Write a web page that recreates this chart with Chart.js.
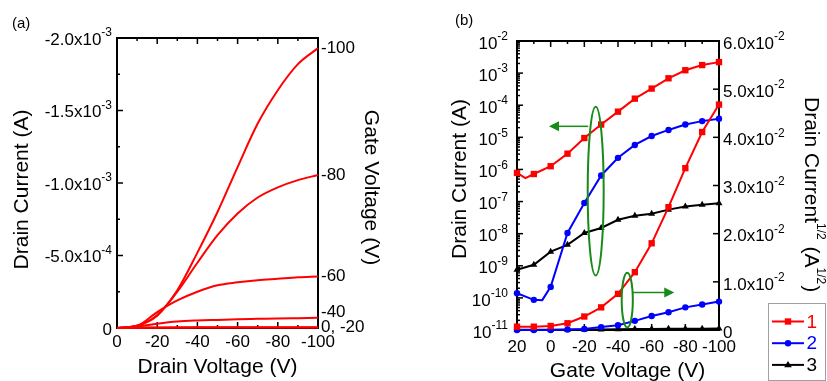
<!DOCTYPE html>
<html>
<head>
<meta charset="utf-8">
<script src="https://cdn.jsdelivr.net/npm/chart.js@4.4.1/dist/chart.umd.min.js"></script>
<style>
  html, body { margin: 0; padding: 0; background: #fff; }
  #wrap { position: relative; width: 827px; height: 381px; overflow: hidden; }
  #chartA { position: absolute; left: 0; top: 0; }
  #chartB { position: absolute; left: 440px; top: 0; }
</style>
</head>
<body>
<div id="wrap">
  <canvas id="chartA" width="440" height="381"></canvas>
  <canvas id="chartB" width="387" height="381"></canvas>
</div>
<script>
// ---- panel (a): output curves, drain current (A) vs drain voltage (V)
const drainV = [0, -10, -20, -30, -40, -50, -60, -70, -80, -90, -100];
const idVg100 = [0, -1.5e-5, -9.0e-5, -2.6e-4, -5.2e-4, -8.0e-4, -1.11e-3, -1.41e-3, -1.64e-3, -1.82e-3, -1.93e-3];
const idVg80 = [0, -1.5e-5, -8.5e-5, -2.5e-4, -4.5e-4, -6.4e-4, -7.9e-4, -9.0e-4, -9.7e-4, -1.02e-3, -1.055e-3];
const idVg60 = [0, -1.5e-5, -1.1e-4, -1.9e-4, -2.5e-4, -2.95e-4, -3.15e-4, -3.3e-4, -3.4e-4, -3.5e-4, -3.56e-4];
const idVg40 = [0, -1.0e-5, -3.0e-5, -4.5e-5, -5.2e-5, -5.6e-5, -6.0e-5, -6.3e-5, -6.6e-5, -6.8e-5, -7.0e-5];
const idVg20 = [0, -2e-6, -4e-6, -5e-6, -5e-6, -6e-6, -6e-6, -6e-6, -6e-6, -6e-6, -6e-6];
const idVg0 = [0, -1e-6, -2e-6, -2e-6, -3e-6, -3e-6, -3e-6, -3e-6, -3e-6, -3e-6, -3e-6];
const gateTags = ["-100", "-80", "-60", "-40", "0, -20", ""];
const xTicksA = [0, -20, -40, -60, -80, -100];
const yTicksA = [0, -5e-4, -1.0e-3, -1.5e-3, -2.0e-3];

// ---- panel (b): transfer curves, gate voltage (V)
const gateV = [20, 10, 0, -10, -20, -30, -40, -50, -60, -70, -80, -90, -100];
const idLog1 = [7.8e-7, 7.2e-7, 1.26e-6, 3.1e-6, 9.5e-6, 2.5e-5, 6.3e-5, 1.6e-4, 3.3e-4, 6.9e-4, 1.23e-3, 1.78e-3, 2.2e-3];
const idLog2 = [1.4e-10, 8.7e-11, 2.2e-10, 1.05e-8, 9.0e-8, 6.5e-7, 2.3e-6, 5.8e-6, 1.1e-5, 1.7e-5, 2.5e-5, 3.2e-5, 3.8e-5];
const idLog3 = [7.5e-10, 1.07e-9, 2.75e-9, 4.5e-9, 1.05e-8, 1.5e-8, 2.7e-8, 3.6e-8, 4.2e-8, 5.6e-8, 7.0e-8, 7.9e-8, 8.9e-8];
const idSqrt1 = [6.9e-4, 6.9e-4, 8.3e-4, 1.4e-3, 2.8e-3, 4.7e-3, 7.5e-3, 1.2e-2, 1.8e-2, 2.55e-2, 3.36e-2, 4.11e-2, 4.68e-2];
const idSqrt2 = [0, 0, 0, 1e-4, 2e-4, 6e-4, 1.0e-3, 1.9e-3, 2.9e-3, 3.7e-3, 4.7e-3, 5.3e-3, 5.9e-3];
const idSqrt3 = [3e-5, 3e-5, 5e-5, 7e-5, 1e-4, 1.2e-4, 1.6e-4, 1.9e-4, 2e-4, 2.4e-4, 2.6e-4, 2.8e-4, 3e-4];
// unmarked readings between markers
const extraLog1 = [[15, 5.4e-7]];
const extraLog2 = [[5, 8.5e-11]];
const seriesNames = ["1", "2", "3"];
const seriesColors = ["#ff0000", "#0000ff", "#000000"];
const xTicksB = [20, 0, -20, -40, -60, -80, -100];
const yLogTicks = [-11, -10, -9, -8, -7, -6, -5, -4, -3, -2];
const ySqrtTicks = [0, 0.01, 0.02, 0.03, 0.04, 0.05, 0.06];

const FONT = "'Liberation Sans', Arial, sans-serif";

function supText(ctx, base, sup, x, y, align, size) {
  ctx.font = size + "px " + FONT;
  const wb = ctx.measureText(base).width;
  const ss = Math.round(size * 0.7);
  ctx.font = ss + "px " + FONT;
  const ws = sup ? ctx.measureText(sup).width : 0;
  let x0 = x;
  if (align === "right") x0 = x - wb - ws;
  if (align === "center") x0 = x - (wb + ws) / 2;
  ctx.textAlign = "left";
  ctx.textBaseline = "middle";
  ctx.font = size + "px " + FONT;
  ctx.fillText(base, x0, y);
  if (sup) {
    ctx.font = ss + "px " + FONT;
    ctx.fillText(sup, x0 + wb, y - size * 0.42);
  }
}

function sci(v) {
  if (v === 0) return ["0", ""];
  const e = Math.floor(Math.log10(Math.abs(v)) + 1e-9);
  return [(v / Math.pow(10, e)).toFixed(1) + "x10", String(e)];
}

function rotText(ctx, text, x, y, angle, size) {
  ctx.save();
  ctx.translate(x, y);
  ctx.rotate(angle);
  ctx.font = size + "px " + FONT;
  ctx.textAlign = "center";
  ctx.textBaseline = "middle";
  ctx.fillText(text, 0, 0);
  ctx.restore();
}

function tick(ctx, x1, y1, x2, y2) {
  ctx.beginPath();
  ctx.moveTo(x1, y1);
  ctx.lineTo(x2, y2);
  ctx.stroke();
}

// ---------- panel (a)
const panelA = {
  id: "panelA",
  beforeDatasetsDraw(chart) {
    const { ctx, chartArea: a } = chart;
    const xs = chart.scales.x, ys = chart.scales.y;
    ctx.save();
    ctx.strokeStyle = "#000";
    ctx.lineWidth = 1.5;
    for (let v = 0; v >= -100; v -= 10) {
      const px = xs.getPixelForValue(v);
      const len = v % 20 === 0 ? 6 : 3;
      tick(ctx, px, a.bottom, px, a.bottom - len);
      tick(ctx, px, a.top, px, a.top + len);
    }
    for (let v = 0; v >= -2e-3 - 1e-9; v -= 2.5e-4) {
      const py = ys.getPixelForValue(v);
      const len = Math.round(v / 2.5e-4) % 2 === 0 ? 6 : 3;
      tick(ctx, a.left, py, a.left + len, py);
    }
    ctx.lineWidth = 2;
    ctx.strokeRect(a.left, a.top, a.right - a.left, a.bottom - a.top);
    ctx.restore();
  },
  afterDraw(chart) {
    const { ctx, chartArea: a } = chart;
    const xs = chart.scales.x, ys = chart.scales.y;
    ctx.save();
    ctx.fillStyle = "#000";
    xTicksA.forEach(v => {
      supText(ctx, String(v), "", xs.getPixelForValue(v), a.bottom + 14, "center", 17);
    });
    yTicksA.forEach(v => {
      const [b, s] = sci(v);
      supText(ctx, b, s, a.left - 5, ys.getPixelForValue(v) + 2, "right", 17);
    });
    // gate voltage tags at the end of each curve
    chart.data.datasets.forEach((ds, i) => {
      if (!gateTags[i]) return;
      const last = ds.data[ds.data.length - 1];
      const dy = gateTags[i] === "-40" ? -6 : 0;
      supText(ctx, gateTags[i], "", a.right + 3, ys.getPixelForValue(last.y) + dy, "left", 17);
    });
    ctx.font = "15px " + FONT;
    ctx.textAlign = "left";
    ctx.textBaseline = "middle";
    ctx.fillText("(a)", 12, 24);
    rotText(ctx, "Drain Current (A)", 22.5, 189.5, -Math.PI / 2, 21);
    rotText(ctx, "Gate Voltage (V)", 371, 187.5, Math.PI / 2, 21);
    rotText(ctx, "Drain Voltage (V)", 217.5, 367, 0, 21);
    ctx.restore();
  }
};

const curvesA = [idVg100, idVg80, idVg60, idVg40, idVg20, idVg0];
new Chart(document.getElementById("chartA"), {
  type: "line",
  data: {
    datasets: curvesA.map((c, i) => ({
      label: "Vg " + (gateTags[i] || "0"),
      data: drainV.map((v, j) => ({ x: v, y: c[j] })),
      borderColor: "#ff0000",
      borderWidth: 2,
      pointRadius: 0,
      cubicInterpolationMode: "monotone",
      fill: false,
      clip: false
    }))
  },
  options: {
    responsive: false,
    animation: false,
    layout: { padding: { left: 117, right: 122, top: 38, bottom: 53 } },
    plugins: { legend: { display: false }, tooltip: { enabled: false } },
    scales: {
      x: { type: "linear", min: -100, max: 0, reverse: true, display: false },
      y: { type: "linear", min: -2e-3, max: 0, reverse: true, display: false }
    }
  },
  plugins: [panelA]
});

// ---------- panel (b)
function drawMarker(ctx, style, x, y, r) {
  ctx.beginPath();
  if (style === "rect") {
    const s = r * Math.SQRT1_2;
    ctx.rect(x - s, y - s, 2 * s, 2 * s);
  } else if (style === "circle") {
    ctx.arc(x, y, r, 0, Math.PI * 2);
  } else {
    ctx.moveTo(x, y - r);
    ctx.lineTo(x + r * 0.95, y + r * 0.6);
    ctx.lineTo(x - r * 0.95, y + r * 0.6);
    ctx.closePath();
  }
  ctx.fill();
}

const markerStyles = ["rect", "circle", "triangle"];
const markerSizes = [4.5, 3.2, 4];

const panelB = {
  id: "panelB",
  beforeDatasetsDraw(chart) {
    const { ctx, chartArea: a } = chart;
    const xs = chart.scales.x, yl = chart.scales.yLog, yr = chart.scales.ySqrt;
    ctx.save();
    ctx.strokeStyle = "#000";
    ctx.lineWidth = 1.5;
    for (let v = 20; v >= -100; v -= 10) {
      const px = xs.getPixelForValue(v);
      const len = v % 20 === 0 ? 6 : 3;
      tick(ctx, px, a.bottom, px, a.bottom - len);
      tick(ctx, px, a.top, px, a.top + len);
    }
    yLogTicks.forEach(d => {
      const py = yl.getPixelForValue(Math.pow(10, d));
      tick(ctx, a.left, py, a.left + 6, py);
      if (d < -2) {
        for (let k = 2; k <= 9; k++) {
          const pm = yl.getPixelForValue(k * Math.pow(10, d));
          tick(ctx, a.left, pm, a.left + 3, pm);
        }
      }
    });
    ySqrtTicks.forEach(v => {
      const py = yr.getPixelForValue(v);
      tick(ctx, a.right, py, a.right - 6, py);
    });
    ctx.lineWidth = 2;
    ctx.strokeRect(a.left, a.top, a.right - a.left, a.bottom - a.top);
    ctx.restore();
  },
  afterDraw(chart) {
    const { ctx, chartArea: a } = chart;
    const xs = chart.scales.x, yl = chart.scales.yLog, yr = chart.scales.ySqrt;
    ctx.save();
    ctx.fillStyle = "#000";
    xTicksB.forEach(v => {
      supText(ctx, String(v), "", xs.getPixelForValue(v), a.bottom + 17, "center", 17);
    });
    yLogTicks.forEach(d => {
      supText(ctx, "10", String(d), a.left - 9, yl.getPixelForValue(Math.pow(10, d)) + 3, "right", 17);
    });
    ySqrtTicks.forEach(v => {
      const [b, s] = sci(v);
      supText(ctx, b, s, a.right + 4, yr.getPixelForValue(v) + 3, "left", 17);
    });
    ctx.font = "15px " + FONT;
    ctx.textAlign = "left";
    ctx.textBaseline = "middle";
    ctx.fillText("(b)", 15, 21);
    rotText(ctx, "Drain Current (A)", 20, 179, -Math.PI / 2, 21);
    rotText(ctx, "Gate Voltage (V)", 187.5, 371.5, 0, 21);

    // right title with superscripts, reading downward
    ctx.save();
    ctx.translate(371, 97);
    ctx.rotate(Math.PI / 2);
    ctx.textAlign = "left";
    ctx.textBaseline = "middle";
    let cx = 0;
    const parts = [["Drain Current", 21, 0], ["1/2", 12, -9], [" (A", 21, 0], ["1/2", 12, -9], [")", 21, 0]];
    parts.forEach(([t, sz, dy]) => {
      ctx.font = sz + "px " + FONT;
      ctx.fillText(t, cx, dy);
      cx += ctx.measureText(t).width + (sz < 20 ? 1 : 0);
    });
    ctx.restore();

    // green guides: ovals and arrows pointing to the axis used
    ctx.strokeStyle = "#178a17";
    ctx.fillStyle = "#178a17";
    ctx.lineWidth = 2;
    const oval = (x1, x2, p1, p2) => {
      const cxp = (xs.getPixelForValue(x1) + xs.getPixelForValue(x2)) / 2;
      const rx = Math.abs(xs.getPixelForValue(x1) - xs.getPixelForValue(x2)) / 2;
      ctx.beginPath();
      ctx.ellipse(cxp, (p1 + p2) / 2, rx, Math.abs(p2 - p1) / 2, 0, 0, Math.PI * 2);
      ctx.stroke();
    };
    const arrow = (xa, xb, py) => {
      const pa = xs.getPixelForValue(xa), pb = xs.getPixelForValue(xb);
      const dir = pb > pa ? 1 : -1;
      ctx.lineWidth = 1.5;
      tick(ctx, pa, py, pb - dir * 9, py);
      ctx.beginPath();
      ctx.moveTo(pb, py);
      ctx.lineTo(pb - dir * 10, py - 5);
      ctx.lineTo(pb - dir * 10, py + 5);
      ctx.closePath();
      ctx.fill();
      ctx.lineWidth = 2;
    };
    oval(-22, -31.5, yl.getPixelForValue(9e-5), yl.getPixelForValue(5e-10));
    arrow(-22.3, 1, yl.getPixelForValue(2.2e-5));
    oval(-42.2, -48.8, yr.getPixelForValue(0.0119), yr.getPixelForValue(0.0005));
    arrow(-48.9, -73.4, yr.getPixelForValue(0.0078));

    // legend box
    ctx.strokeStyle = "#a0a0a0";
    ctx.lineWidth = 1;
    ctx.strokeRect(328.5, 303.5, 57, 77);
    seriesNames.forEach((n, i) => {
      const y = 321.5 + i * 21.7;
      ctx.strokeStyle = seriesColors[i];
      ctx.fillStyle = seriesColors[i];
      ctx.lineWidth = 2;
      tick(ctx, 332, y, 364, y);
      drawMarker(ctx, markerStyles[i], 348, y, markerSizes[i]);
      ctx.font = "19px " + FONT;
      ctx.textAlign = "left";
      ctx.textBaseline = "middle";
      ctx.fillText(n, 366.5, y + 1);
    });
    ctx.restore();
  }
};

function series(ys, extra) {
  const pts = gateV.map((v, j) => ({ x: v, y: ys[j] }));
  (extra || []).forEach(([x, y]) => pts.push({ x, y }));
  return pts.sort((p, q) => q.x - p.x);
}

const logSets = [idLog1, idLog2, idLog3];
const logExtras = [extraLog1, extraLog2, []];
const sqrtSets = [idSqrt1, idSqrt2, idSqrt3];
const datasetsB = [];
[0, 1, 2].forEach(i => {
  const base = {
    borderColor: seriesColors[i],
    backgroundColor: seriesColors[i],
    borderWidth: 2,
    pointStyle: markerStyles[i],
    pointRadius: c => (c.raw && c.raw.x % 10 === 0 ? markerSizes[i] : 0),
    pointBorderWidth: 0,
    tension: 0,
    fill: false,
    clip: false
  };
  datasetsB.push(Object.assign({ label: seriesNames[i], yAxisID: "yLog", data: series(logSets[i], logExtras[i]) }, base));
  datasetsB.push(Object.assign({ label: seriesNames[i] + " sqrt", yAxisID: "ySqrt", data: series(sqrtSets[i]) }, base));
});

new Chart(document.getElementById("chartB"), {
  type: "line",
  data: { datasets: datasetsB },
  options: {
    responsive: false,
    animation: false,
    layout: { padding: { left: 77, right: 108, top: 41, bottom: 51 } },
    plugins: { legend: { display: false }, tooltip: { enabled: false } },
    scales: {
      x: { type: "linear", min: -100, max: 20, reverse: true, display: false },
      yLog: { type: "logarithmic", position: "left", min: 1e-11, max: 1e-2, display: false },
      ySqrt: { type: "linear", position: "right", min: 0, max: 0.06, display: false }
    }
  },
  plugins: [panelB]
});
</script>
</body>
</html>
